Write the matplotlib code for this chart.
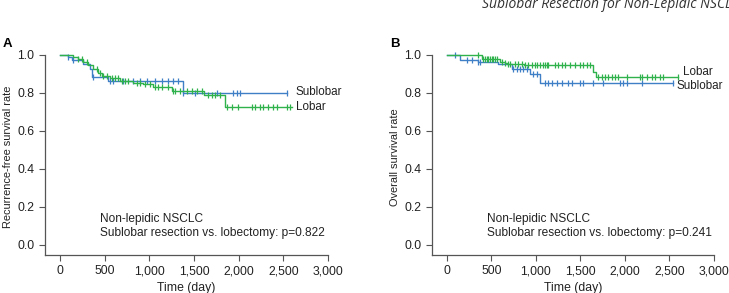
import numpy as np
import matplotlib
matplotlib.use('Agg')
import matplotlib.pyplot as plt

plt.rcParams['font.family'] = ['Liberation Sans', 'DejaVu Sans']

azul = '#3f7fc6'
verde = '#2fb24c'

# Panel A: supervivencia libre de recurrencia
a_sub_t = [0, 93, 130, 261, 336, 362, 541, 1373]
a_sub_s = [1.0, 0.99, 0.975, 0.955, 0.925, 0.885, 0.863, 0.798]
a_sub_fin = 2537
a_sub_cens = [93, 149, 373, 560, 597, 709, 821, 896, 970, 1063, 1138, 1213, 1269,
              1325, 1381, 1511, 1754, 1940, 1978, 2015, 2537]

a_lob_t = [0, 149, 205, 261, 317, 373, 429, 466, 560, 672, 821, 933, 1045, 1250, 1610, 1847]
a_lob_s = [1.0, 0.99, 0.98, 0.965, 0.945, 0.925, 0.905, 0.89, 0.877, 0.865, 0.855,
           0.845, 0.832, 0.813, 0.79, 0.727]
a_lob_fin = 2593
a_lob_cens = [205, 242, 298, 410, 448, 485, 522, 578, 616, 653, 690, 728, 765, 858, 896,
              951, 1007, 1063, 1101, 1138, 1213, 1269, 1287, 1343, 1418, 1474, 1530, 1586,
              1660, 1698, 1735, 1791, 1866, 1922, 1996, 2146, 2183, 2239, 2276, 2332,
              2388, 2425, 2537, 2575]

# Panel B: supervivencia global
b_sub_t = [0, 146, 352, 576, 727, 933, 1045]
b_sub_s = [1.0, 0.975, 0.965, 0.95, 0.925, 0.898, 0.851]
b_sub_fin = 2543
b_sub_cens = [90, 221, 277, 352, 371, 745, 783, 820, 858, 895, 970, 1007, 1101, 1138,
              1176, 1232, 1288, 1363, 1401, 1494, 1532, 1644, 1756, 1944, 1981, 2019,
              2187, 2543]

b_lob_t = [0, 390, 596, 650, 680, 870, 1637, 1671]
b_lob_s = [1.0, 0.977, 0.965, 0.956, 0.953, 0.947, 0.912, 0.886]
b_lob_fin = 2599
b_lob_cens = [352, 408, 427, 446, 464, 483, 502, 521, 539, 558, 614, 652, 689, 708, 764,
              801, 839, 876, 914, 951, 989, 1007, 1045, 1082, 1101, 1120, 1138, 1213,
              1251, 1288, 1326, 1382, 1438, 1494, 1532, 1569, 1607, 1700, 1738, 1775,
              1813, 1850, 1887, 1925, 2019, 2168, 2187, 2243, 2299, 2337, 2393, 2430, 2599]

xticks = [0, 500, 1000, 1500, 2000, 2500, 3000]
xticklabels = ['0', '500', '1,000', '1,500', '2,000', '2,500', '3,000']
yticks = [0.0, 0.2, 0.4, 0.6, 0.8, 1.0]

fs = 8.8
fl = 8.4  # etiquetas de las curvas


def curva(ax, t, s, fin, cens, color):
    tt = list(t) + [fin]
    ss = list(s) + [s[-1]]
    ax.step(tt, ss, where='post', color=color, lw=1.0, clip_on=False)
    idx = np.searchsorted(t, cens, side='right') - 1
    ax.plot(cens, np.array(s)[idx], ls='none', marker='|', ms=4.5, mew=0.9,
            color=color, clip_on=False)


def ejes(ax, ylab):
    ax.set_xlim(-168, 3000)
    ax.set_ylim(-0.053, 1.0)
    for lado in ['top', 'right']:
        ax.spines[lado].set_visible(False)
    for lado in ['left', 'bottom']:
        ax.spines[lado].set_color('#555555')
        ax.spines[lado].set_linewidth(0.9)
    ax.set_xticks(xticks)
    ax.set_xticklabels(xticklabels)
    ax.set_yticks(yticks)
    ax.set_yticklabels(['%.1f' % y for y in yticks])
    ax.tick_params(labelsize=fs, length=4.5, width=0.8, color='#555555',
                   labelcolor='#222222', pad=3)
    ax.set_xlabel('Time (day)', fontsize=fs, color='#222222', labelpad=3)
    ax.set_ylabel(ylab, fontsize=7.9, color='#222222', va='center')
    ax.yaxis.set_label_coords(-0.13, 0.49)


f = plt.figure(figsize=(7.29, 2.93), dpi=100)
axA = f.add_axes([0.0617, 0.1297, 0.3882, 0.6826])
axB = f.add_axes([0.5926, 0.1297, 0.3868, 0.6826])

curva(axA, a_sub_t, a_sub_s, a_sub_fin, a_sub_cens, azul)
curva(axA, a_lob_t, a_lob_s, a_lob_fin, a_lob_cens, verde)
ejes(axA, 'Recurrence-free survival rate')
axA.text(2640, 0.803, 'Sublobar', fontsize=fl, va='center', ha='left', color='#222222')
axA.text(2640, 0.728, 'Lobar', fontsize=fl, va='center', ha='left', color='#222222')
axA.text(450, 0.137, 'Non-lepidic NSCLC', fontsize=8.6, va='center', color='#222222')
axA.text(450, 0.065, 'Sublobar resection vs. lobectomy: p=0.822', fontsize=8.6,
         va='center', color='#222222')

curva(axB, b_sub_t, b_sub_s, b_sub_fin, b_sub_cens, azul)
curva(axB, b_lob_t, b_lob_s, b_lob_fin, b_lob_cens, verde)
ejes(axB, 'Overall survival rate')
axB.text(2648, 0.908, 'Lobar', fontsize=fl, va='center', ha='left', color='#222222')
axB.text(2584, 0.838, 'Sublobar', fontsize=fl, va='center', ha='left', color='#222222')
axB.text(446, 0.137, 'Non-lepidic NSCLC', fontsize=8.6, va='center', color='#222222')
axB.text(446, 0.065, 'Sublobar resection vs. lobectomy: p=0.241', fontsize=8.6,
         va='center', color='#222222')

f.text(3 / 729, 1 - 44 / 293, 'A', fontsize=9.5, fontweight='bold', va='center')
f.text(390 / 729, 1 - 44 / 293, 'B', fontsize=9.5, fontweight='bold', va='center')
f.text(482 / 729, 1 - 8 / 293, 'Sublobar Resection for Non-Lepidic NSCLC',
       fontsize=10, style='italic', color='#333333', va='baseline',
       family=['Open Sans', 'DejaVu Sans'])

plt.savefig('out.png', dpi=100)
